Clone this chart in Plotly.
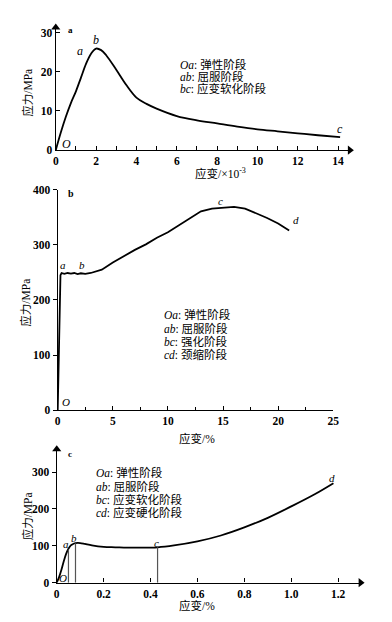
import plotly.graph_objects as go

W, H = 392, 622

# ---------------- data ----------------
# Panel a
strain_a = [0, 0.25, 0.5, 0.75, 1.0, 1.25, 1.5, 1.75, 2.0, 2.25, 2.5, 3.0, 3.5, 4.0, 4.5,
            5, 6, 7, 8, 9, 10, 11, 12, 13, 14.1]
stress_a = [0, 4.5, 8.5, 12, 15, 18.5, 22, 24.6, 25.9, 25.5, 24.2, 20.5, 16.6, 13.4, 11.8,
            10.6, 8.7, 7.6, 6.8, 6.0, 5.3, 4.8, 4.3, 3.8, 3.3]
# Panel b
strain_b = [0, 0.05, 0.15, 0.25, 0.35, 0.6, 0.9, 1.2, 1.5, 1.8, 2.1, 2.5, 3, 4, 5, 6, 7, 8,
            9, 10, 11, 12, 13, 14, 15, 16, 17, 18, 19, 20, 21]
stress_b = [0, 60, 160, 245, 249, 247.5, 249, 248, 249, 247, 248.5, 247.5, 249, 255, 268, 280,
            291, 301, 313, 323, 336, 349, 361, 366, 368, 369, 366, 358, 349, 339, 326]
# Panel c
strain_c = [0, 0.01, 0.02, 0.03, 0.04, 0.05, 0.06, 0.07, 0.08, 0.09, 0.1, 0.12, 0.15, 0.2,
            0.25, 0.3, 0.35, 0.43, 0.5, 0.6, 0.7, 0.8, 0.9, 1.0, 1.1, 1.18]
stress_c = [0, 15, 35, 58, 78, 92, 101, 105, 107, 108, 107.5, 105, 101, 97, 96, 95, 95,
            96, 101, 112, 128, 150, 176, 207, 240, 270]
bound_strain_c = [0.05, 0.08, 0.43]
bound_stress_c = [90, 107, 96]

legend_a = ["<i>Oa</i>: 弹性阶段", "<i>ab</i>: 屈服阶段", "<i>bc</i>: 应变软化阶段"]
legend_b = ["<i>Oa</i>: 弹性阶段", "<i>ab</i>: 屈服阶段", "<i>bc</i>: 强化阶段", "<i>cd</i>: 颈缩阶段"]
legend_c = ["<i>Oa</i>: 弹性阶段", "<i>ab</i>: 屈服阶段", "<i>bc</i>: 应变软化阶段", "<i>cd</i>: 应变硬化阶段"]

FONT = "Liberation Serif, Noto Sans CJK SC, serif"

def px_x(x):
    return x / W

def px_y(y):
    return 1 - y / H

fig = go.Figure()

fig.add_trace(go.Scatter(x=strain_a, y=stress_a, mode="lines", line=dict(color="black", width=1.8, shape="spline"), xaxis="x", yaxis="y"))
fig.add_trace(go.Scatter(x=strain_b, y=stress_b, mode="lines", line=dict(color="black", width=1.8), xaxis="x2", yaxis="y2"))
fig.add_trace(go.Scatter(x=strain_c, y=stress_c, mode="lines", line=dict(color="black", width=1.8, shape="spline"), xaxis="x3", yaxis="y3"))
for xs, ys in zip(bound_strain_c, bound_stress_c):
    fig.add_trace(go.Scatter(x=[xs, xs], y=[0, ys], mode="lines", line=dict(color="#555", width=1.2), xaxis="x3", yaxis="y3"))

tickfont = dict(family=FONT, size=11.5, color="black", weight="bold")
common = dict(showline=True, linecolor="black", linewidth=1.4, showgrid=False, zeroline=False,
              tickfont=tickfont, tickcolor="black", ticklen=4, tickwidth=1, fixedrange=True)

# panel a
xa0, xa1 = 54, 355
ya0, ya1 = 147, 22
xa_end = (xa1 - xa0) / 20.64
ya_end = (ya0 - ya1) / 4.0
fig.update_layout(
    xaxis=dict(common, domain=[px_x(xa0), px_x(xa1)], range=[0, xa_end],
               tickvals=[0, 2, 4, 6, 8, 10, 12, 14], ticks="inside",
               minor=dict(ticks="inside", tickvals=list(range(1, 15, 2)), ticklen=4, tickcolor="black"),
               anchor="y"),
    yaxis=dict(common, domain=[px_y(ya0), px_y(ya1)], range=[0, ya_end],
               tickvals=[0, 10, 20, 30], ticks="inside", anchor="x"),
)
# panel b
xb0, xb1 = 56, 338
yb0, yb1 = 412, 187.5
fig.update_layout(
    xaxis2=dict(common, domain=[px_x(xb0), px_x(xb1)], range=[0, 25],
                tickvals=[0, 5, 10, 15, 20, 25], ticks="inside",
                minor=dict(ticks="inside", tickvals=[2.5, 7.5, 12.5, 17.5, 22.5], ticklen=3, tickcolor="black"),
                anchor="y2"),
    yaxis2=dict(common, domain=[px_y(yb0), px_y(yb1)], range=[0, 400],
                tickvals=[0, 100, 200, 300, 400], ticks="outside", anchor="x2"),
)
# panel c
xc0, xc1 = 55, 366
yc0, yc1 = 588, 452
xc_end = (xc1 - xc0) / 240.0
yc_end = (yc0 - yc1) / 0.3757
fig.update_layout(
    xaxis3=dict(common, domain=[px_x(xc0), px_x(xc1)], range=[0, xc_end],
                tickvals=[0, 0.2, 0.4, 0.6, 0.8, 1.0, 1.2], ticktext=["0", "0.2", "0.4", "0.6", "0.8", "1.0", "1.2"],
                ticks="inside", anchor="y3"),
    yaxis3=dict(common, domain=[px_y(yc0), px_y(yc1)], range=[0, yc_end],
                tickvals=[0, 100, 200, 300], ticks="outside", anchor="x3"),
)

# axis arrowheads (decoration at the axis ends)
def arrowhead(x, y, symbol, xa, ya):
    fig.add_trace(go.Scatter(x=[x], y=[y], mode="markers", cliponaxis=False, hoverinfo="skip",
                             marker=dict(symbol=symbol, size=8, color="black", line=dict(width=0)),
                             xaxis=xa, yaxis=ya))
arrowhead(xa_end, 0, "triangle-right", "x", "y")
arrowhead(0, ya_end, "triangle-up", "x", "y")
arrowhead(xc_end, 0, "triangle-right", "x3", "y3")
arrowhead(0, yc_end, "triangle-up", "x3", "y3")

ann = []
def lab(text, x, y, xr, yr, size=11, italic=True, bold=False):
    t = f"<i>{text}</i>" if italic else text
    if bold:
        t = f"<b>{t}</b>"
    ann.append(dict(text=t, x=x, y=y, xref=xr, yref=yr, showarrow=False,
                    font=dict(family=FONT, size=size, color="black")))

# point labels panel a
lab("a", 1.2, 25.2, "x", "y", 12)
lab("b", 2.0, 28.2, "x", "y", 12)
lab("O", 0.55, 1.6, "x", "y", 12)
lab("c", 14.1, 5.4, "x", "y", 12)
lab("a", 0.75, 30.6, "x", "y", 9, italic=False, bold=True)
# panel b
lab("a", 0.5, 263, "x2", "y2", 11)
lab("b", 2.2, 264, "x2", "y2", 11)
lab("c", 14.8, 380, "x2", "y2", 11)
lab("d", 21.6, 345, "x2", "y2", 11)
lab("O", 0.75, 14, "x2", "y2", 11)
lab("b", 1.2, 393, "x2", "y2", 10, italic=False, bold=True)
# panel c
lab("a", 0.04, 104, "x3", "y3", 11)
lab("b", 0.074, 122, "x3", "y3", 11)
lab("c", 0.424, 107, "x3", "y3", 11)
lab("d", 1.174, 283, "x3", "y3", 11)
lab("O", 0.028, 12, "x3", "y3", 11)
lab("c", 0.055, 348, "x3", "y3", 9, italic=False, bold=True)

# legends
def legend(lines, x, ys, size):
    for t, y in zip(lines, ys):
        ann.append(dict(text=t, x=px_x(x), y=px_y(y), xref="paper", yref="paper",
                        xanchor="left", yanchor="middle", showarrow=False,
                        font=dict(family=FONT, size=size, color="black")))

legend(legend_a, 179, [59.5, 72, 84.5], 11.5)
legend(legend_b, 163, [315, 328.5, 342, 355.5], 11.5)
legend(legend_c, 93, [475.5, 489.5, 503, 516.5], 11.5)

# axis titles
def title(text, x, y, angle=0, size=11.5):
    ann.append(dict(text=text, x=px_x(x), y=px_y(y), xref="paper", yref="paper",
                    xanchor="center", yanchor="middle", showarrow=False, textangle=angle,
                    font=dict(family=FONT, size=size, color="black")))

title("应变/×10<sup>-3</sup>", 223, 170.5)
title("应变/%", 199, 440.5)
title("应变/%", 199, 611.5)
title("应力/MPa", 25, 88, -90)
title("应力/MPa", 23, 302, -90)
title("应力/MPa", 26, 520, -90)

fig.update_layout(
    annotations=ann,
    width=W, height=H, autosize=False,
    margin=dict(l=0, r=0, t=0, b=0),
    paper_bgcolor="white", plot_bgcolor="white",
    showlegend=False,
)

fig.write_html("out.html", config={"displayModeBar": False},
               post_script="document.body.style.margin='0';document.body.style.overflow='hidden';")
